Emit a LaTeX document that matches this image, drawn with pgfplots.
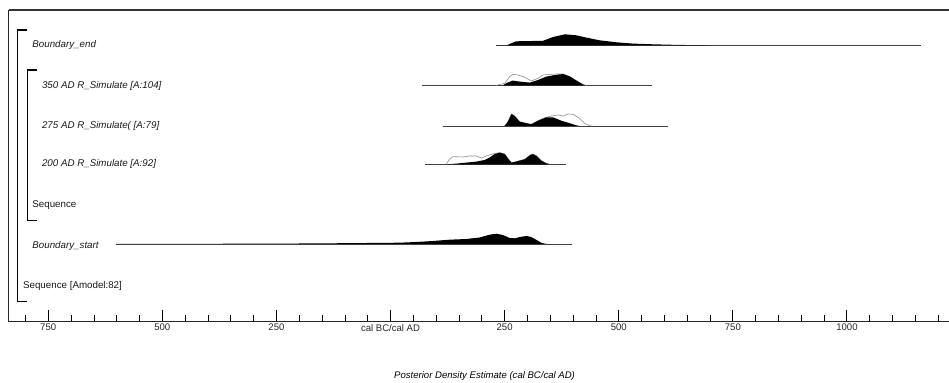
\documentclass[border=0pt]{standalone}
\usepackage{pgfplots}
\usepackage{pgfplotstable}
\pgfplotsset{compat=1.18}
\usepackage{fontspec}
\setmainfont{Liberation Sans}

% Boundary_end posterior (year, height)
\pgfplotstableread{
x h
232 0
254 0
262 1.5
275 4
300 4.2
334 4.5
356 8.3
382 11
407 10
429 7.7
458 5
495 3
531 1.7
575 1
619 0.5
656 0.2
700 0
}\bendfill
% 350 AD
\pgfplotstableread{
x h
246 0
255 2.5
268 4.7
283 3.7
305 2.7
323 5.3
341 8.7
360 10.3
378 11.3
393 8.7
407 4.7
422 0.7
426 0
}\adthreefiftyfill
\pgfplotstableread{
x h
232 0
250 2
261 8.7
268 11
279 10.3
294 8
308.5 4.3
323 7
334 10.3
349 11
366 11.3
378 11.3
393 8.7
407 4.7
422 0.7
430 0
}\adthreefiftyprior
% 275 AD
\pgfplotstableread{
x h
250 0
257 4.3
265 12
272 10
283 4.3
298 2.7
308.5 1.7
323 5.3
341 8.7
356 8.7
374 5.3
393 2.7
407 0.7
414 0
}\adtwoseventyfivefill
\pgfplotstableread{
x h
250 0
257 4.3
265 12
272 10
283 4.3
298 2.7
308.5 1.7
323 5.3
341 8.7
352 10
367 11
378 10
389 12
400 11.7
414 7.7
425 2.7
436 0.3
442 0
}\adtwoseventyfiveprior
% 200 AD
\pgfplotstableread{
x h
126 0
144 0.7
166 1.7
188 2.7
206 4.3
217 6.7
228 10.3
239 11.7
250 10.3
257 6
265 1.7
272 2.3
283 3.7
294 5
305 9
312 10.3
320 8.3
330 3.7
341 1
349 0
}\adtwohundredfill
\pgfplotstableread{
x h
122 0
129 5
137 7.7
159 7.3
173 8.3
188 8.3
199 6.3
210 8.3
224 10.3
239 11.7
250 10.3
257 6
265 1.7
272 2.3
283 3.7
294 5
305 9
312 10.3
320 8.3
330 3.7
341 1
349 0
}\adtwohundredprior
% Boundary_start
\pgfplotstableread{
x h
-601 0
-400 0.2
-200 0.5
-100 0.8
20 1.3
56 2
93 3
129 4.3
166 5
195 6.5
217 9.3
232 10.3
246 9
261 6
272 5.7
287 7.3
298 8
308.5 7
320 4
330 1.3
338 0.3
345 0
}\bstartfill

\begin{document}
\begin{tikzpicture}
\begin{axis}[
  width=940.5bp, height=311.5bp, scale only axis,
  xmin=-837, xmax=1223.5, ymin=0, ymax=311.5,
  clip=false,
  axis line style={draw=none},
  xtick={-750,-500,-250,0,250,500,750,1000},
  xticklabels={750,500,250,cal BC/cal AD,250,500,750,1000},
  minor xtick={-800,-700,-650,-600,-550,-450,-400,-350,-300,-200,-150,-100,-50,50,100,150,200,300,350,400,450,550,600,650,700,800,850,900,950,1050,1100,1150,1200},
  xtick pos=bottom,
  ytick=\empty,
  tick align=inside,
  major tick length=11bp,
  minor tick length=6bp,
  every major tick/.style={black, line width=1bp},
  every minor tick/.style={black, line width=0.7bp},
  xticklabel style={font=\fontsize{9.6}{11}\selectfont, inner sep=0pt, yshift=-2.5bp, text=black!85},
  xlabel={Posterior Density Estimate (cal BC/cal AD)},
  xlabel style={font=\itshape\fontsize{9.6}{11}\selectfont, at={(axis cs:206,0)}, anchor=center, yshift=-55bp, inner sep=0pt},
  every axis plot/.append style={mark=none},
]
% frame
\draw[line width=1.3bp, black!85] (rel axis cs:0,1) -- (rel axis cs:0,0) -- (rel axis cs:1,0);
\draw[line width=1.5bp, black!80] (rel axis cs:0,1) -- (rel axis cs:1,1);

% brackets
\addplot[black, line width=1.4bp] coordinates {(-797,291.5) (-817,291.5) (-817,19.8) (-797,19.8)};
\addplot[black, line width=1.4bp] coordinates {(-775.5,251.5) (-795,251.5) (-795,100.8) (-775.5,100.8)};

% Boundary_end
\addplot[black!75, line width=0.6bp] coordinates {(232,276.2) (1162,276.2)};
\addplot[fill=black, draw=none] table[x=x, y expr=\thisrow{h}+276.2] {\bendfill};

% 350 AD
\addplot[black!75, line width=0.6bp] coordinates {(68,236.2) (572,236.2)};
\addplot[black!45, line width=0.6bp] table[x=x, y expr=\thisrow{h}+236.2] {\adthreefiftyprior};
\addplot[fill=black, draw=none] table[x=x, y expr=\thisrow{h}+236.2] {\adthreefiftyfill};

% 275 AD
\addplot[black!75, line width=0.6bp] coordinates {(114,195.5) (607,195.5)};
\addplot[black!45, line width=0.6bp] table[x=x, y expr=\thisrow{h}+195.5] {\adtwoseventyfiveprior};
\addplot[fill=black, draw=none] table[x=x, y expr=\thisrow{h}+195.5] {\adtwoseventyfivefill};

% 200 AD
\addplot[black!75, line width=0.6bp] coordinates {(75,157.2) (385,157.2)};
\addplot[black!45, line width=0.6bp] table[x=x, y expr=\thisrow{h}+157.2] {\adtwohundredprior};
\addplot[fill=black, draw=none] table[x=x, y expr=\thisrow{h}+157.2] {\adtwohundredfill};

% Boundary_start
\addplot[black!75, line width=0.6bp] coordinates {(-601,77.5) (398,77.5)};
\addplot[fill=black, draw=none] table[x=x, y expr=\thisrow{h}+77.5] {\bstartfill};

% labels
\begin{scope}[every node/.style={anchor=west, inner sep=0pt, font=\fontsize{9.8}{11}\selectfont, text=black!90}]
\node[font=\itshape\fontsize{9.8}{11}\selectfont] at (axis cs:-785,276.5) {Boundary\_end};
\node[font=\itshape\fontsize{9.8}{11}\selectfont] at (axis cs:-764,235.5) {350 AD R\_Simulate [A:104]};
\node[font=\itshape\fontsize{9.8}{11}\selectfont] at (axis cs:-764,195.5) {275 AD R\_Simulate( [A:79]};
\node[font=\itshape\fontsize{9.8}{11}\selectfont] at (axis cs:-764,157.2) {200 AD R\_Simulate [A:92]};
\node at (axis cs:-785,116.5) {Sequence};
\node[font=\itshape\fontsize{9.8}{11}\selectfont] at (axis cs:-785,75.8) {Boundary\_start};
\node at (axis cs:-805.4,35.8) {Sequence [Amodel:82]};
\end{scope}
\end{axis}
\pgfresetboundingbox
\path ([shift={(-8.5bp,-61.5bp)}]current axis.south west) rectangle ([shift={(0bp,10bp)}]current axis.north east);
\end{tikzpicture}
\end{document}
